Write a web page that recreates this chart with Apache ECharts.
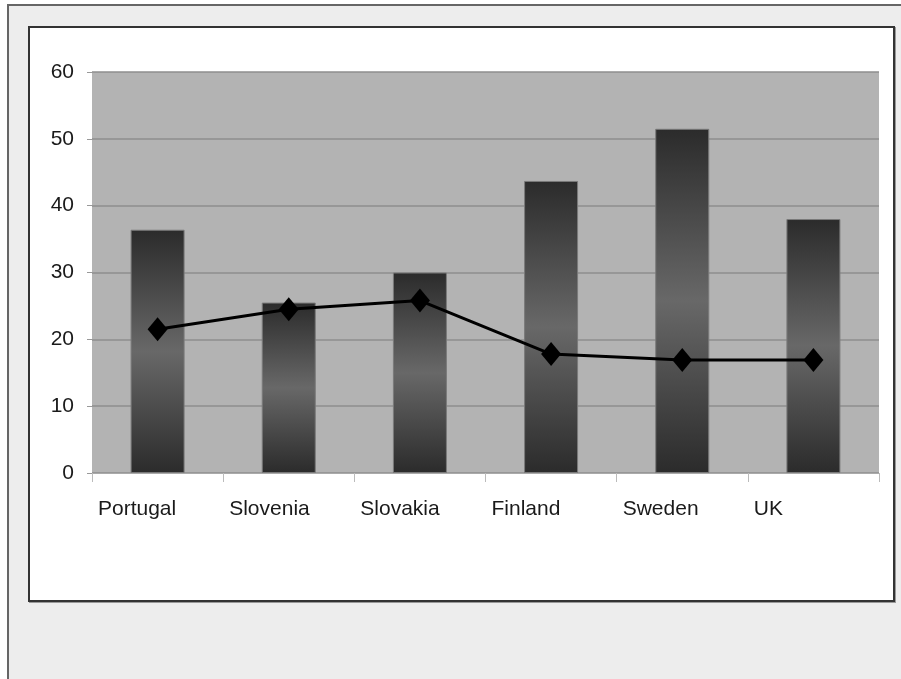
<!DOCTYPE html>
<html>
<head>
<meta charset="utf-8">
<script src="https://cdn.jsdelivr.net/npm/echarts@6/dist/echarts.min.js"></script>
<style>
  html, body { margin: 0; padding: 0; background: #fff; }
  .outer {
    position: absolute; left: 7px; top: 4px; width: 894px; height: 675px;
    background: #ededed; border-left: 2px solid #666; border-top: 2px solid #666;
  }
  .inner {
    position: absolute; left: 28px; top: 26px; width: 863px; height: 572px;
    background: #fff; border: 2px solid #333; box-shadow: 1px 1px 0 #999;
  }
  #chart { position: absolute; left: 0; top: 0; width: 901px; height: 679px; }
</style>
</head>
<body>
<div class="outer"></div>
<div class="inner"></div>
<div id="chart"></div>
<script>
  var categories = ['Portugal', 'Slovenia', 'Slovakia', 'Finland', 'Sweden', 'UK'];
  var barValues = [36.4, 25.5, 30.0, 43.7, 51.5, 38.0];
  var lineValues = [21.5, 24.5, 25.8, 17.8, 16.9, 16.9];
  var yTicks = [0, 10, 20, 30, 40, 50, 60];

  var font = '"Liberation Sans", Arial, sans-serif';
  var chart = echarts.init(document.getElementById('chart'));

  chart.setOption({
    backgroundColor: 'transparent',
    animation: false,
    grid: {
      left: 92, top: 72, width: 787, height: 401,
      show: true, backgroundColor: '#b3b3b3', borderWidth: 0
    },
    xAxis: [
      {
        type: 'category',
        data: categories,
        boundaryGap: true,
        axisLine: { show: true, lineStyle: { color: '#aaa', width: 1 } },
        axisTick: { show: false },
        axisLabel: { show: false }
      },
      {
        // boundary axis for the ticks and left-aligned labels
        type: 'value',
        min: 0, max: 6, interval: 1,
        position: 'bottom',
        axisLine: { show: false },
        splitLine: { show: false },
        axisTick: { show: true, length: 9, lineStyle: { color: '#bbb' } },
        axisLabel: {
          formatter: function (v) { return categories[v] || ''; },
          align: 'left', padding: [0, 0, 0, 6], margin: 26,
          fontFamily: font, fontSize: 21, color: '#1a1a1a'
        }
      }
    ],
    yAxis: {
      type: 'value',
      min: yTicks[0], max: yTicks[yTicks.length - 1], interval: 10,
      axisLine: { show: false },
      axisTick: { show: true, length: 5, lineStyle: { color: '#999' } },
      splitLine: { show: true, lineStyle: { color: '#8e8e8e', width: 1.5 } },
      axisLabel: { margin: 18, fontFamily: font, fontSize: 21, color: '#1a1a1a' }
    },
    series: [
      {
        type: 'bar',
        xAxisIndex: 0,
        data: barValues,
        barWidth: 54,
        itemStyle: {
          color: new echarts.graphic.LinearGradient(0, 0, 0, 1, [
            { offset: 0, color: '#2b2b2b' },
            { offset: 0.5, color: '#686868' },
            { offset: 1, color: '#2b2b2b' }
          ]),
          borderColor: '#7a7a7a',
          borderWidth: 1
        }
      },
      {
        type: 'line',
        xAxisIndex: 0,
        data: lineValues,
        symbol: 'diamond',
        symbolSize: [20, 24],
        lineStyle: { color: '#000', width: 3 },
        itemStyle: { color: '#000' }
      }
    ]
  });
</script>
</body>
</html>
